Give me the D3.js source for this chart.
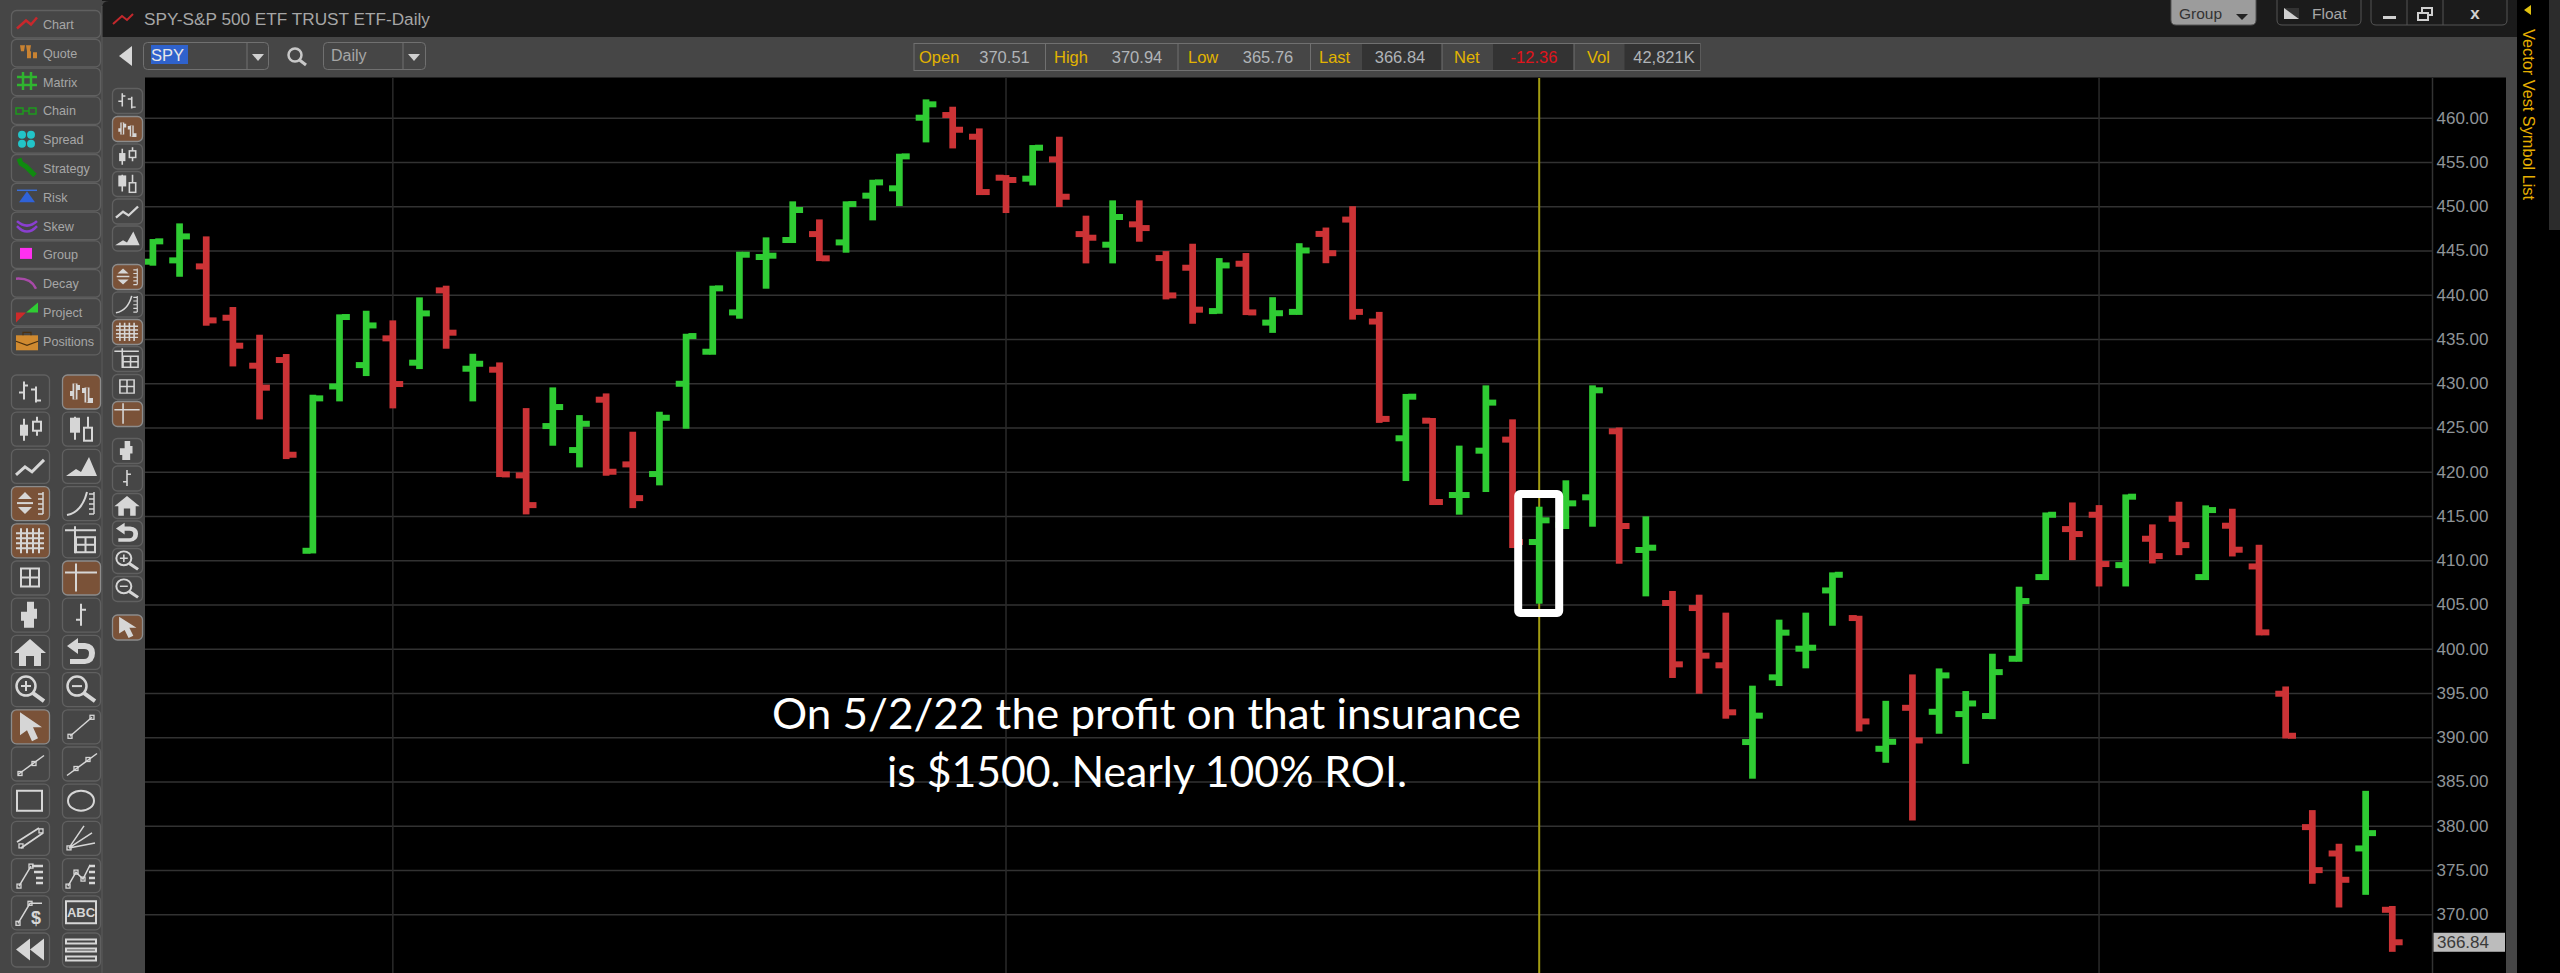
<!DOCTYPE html>
<html>
<head>
<meta charset="utf-8">
<script src="https://cdn.jsdelivr.net/npm/d3@7"></script>
<style>
  html, body { margin: 0; padding: 0; background: #000; overflow: hidden; }
  text { font-family: "Liberation Sans", Arial, sans-serif; }
</style>
</head>
<body>
<svg id="chart" width="2560" height="973"></svg>
<script>
// Daily bars, left to right
var opens = [443.73,443.88,443.2,437.4,431.98,432.62,411.07,429.64,432.05,435.07,432.32,440.49,431.64,431.53,419.59,425.16,422.45,428.14,420.83,419.74,429.94,
  433.56,438,444.26,446.18,446.85,445.91,451.19,452.02,460,460.3,457.85,453.22,453.11,455.29,446.85,445.65,447.95,444.14,443.05,438.15,443.5,
  436.85,438.06,446.87,448.49,436.97,423.78,425.77,417.37,422.38,423.63,412.06,414,417.11,424.57,411.16,405.17,404.6,398.13,389.46,396.77,400.01,
  406.59,403.47,388.7,393.33,392.88,392.62,392.4,398.87,408.1,413.52,415.14,409.45,412.43,414.69,408.1,413.9,409.3,394.92,379.85,376.87,377.44,370.51];
var highs = [446.29,448.06,446.59,438.61,435.48,433.3,428.7,437.78,438.19,437.1,439.7,441.02,433.33,432.35,427.19,429.53,426.4,428.85,424.52,426.78,435.59,
  441.02,444.86,446.48,450.55,448.51,450.55,452.99,455.93,462.07,461.24,458.79,453.52,456.91,457.85,448.93,450.66,450.66,444.93,445.76,444.14,444.71,
  439.72,445.82,447.59,450,438.06,428.79,426.07,422.95,429.76,425.92,416.05,419.03,429.76,425,414.96,406.53,406.11,404.08,395.83,403.29,404.08,
  408.63,403.73,394.12,397.1,397.78,395.22,399.44,407.01,415.4,416.53,416.23,417.44,414.05,416.61,416.2,415.82,411.75,395.74,381.77,377.97,383.95,370.94];
var lows = [443.28,442.03,436.5,431.9,425.91,421.43,410.77,427.95,430.81,427.16,431.6,433.9,427.95,419.4,415.18,422.94,420.49,419.55,415.89,418.46,424.86,
  433.22,437.29,440.68,445.84,443.8,444.75,448.4,450.02,457.21,456.53,451.26,449.23,452.35,449.91,443.54,443.54,445.99,439.47,436.72,437.85,437.7,
  435.69,437.72,443.56,437.19,425.52,418.95,416.24,415.15,417.71,411.38,405.09,413.53,413.79,409.61,405.92,396.7,394.92,392.1,385.32,395.79,397.79,
  402.6,390.66,387.12,380.6,390.4,387,392.05,398.53,407.76,410.02,407.04,407.04,409.64,410.58,407.76,410.43,401.51,389.87,373.45,370.77,372.2,365.76];
var closes = [446.03,446.59,437.1,434.24,429.5,421.92,428.29,437.48,436.53,429.91,437.89,435.71,432.2,419.7,416.23,427.31,425.42,420,417.02,426.1,435.33,
  440.72,444.52,444.41,449.57,444.11,450.24,452.69,455.63,461.51,458.64,451.6,452.96,456.61,451.07,446.44,448.78,447.53,439.92,438.31,443.31,438,
  437.91,445,444.69,438.06,425.97,428.48,416.58,417.37,427.81,412.06,414.51,416.43,429.2,413.87,411.42,398.24,399.22,392.82,392.44,401.82,400.12,
  408.36,391.79,389.49,389.64,396.99,393.82,397.36,405.39,415.14,412.96,409.57,417.18,410.47,411.71,415.67,411.19,401.85,390.17,374.99,373.9,379.17,366.84];

var priceTicks = d3.range(370, 461, 5);
var gridBars = [9, 32, 73];   // bars that carry a vertical grid line
var cursorBar = 52;           // the yellow cursor and the white box
var lastPrice = 366.84;

var quoteLabels = ["Open", "High", "Low", "Last", "Net", "Vol"];
var quoteValues = ["370.51", "370.94", "365.76", "366.84", "-12.36", "42,821K"];

var navLabels = ["Chart", "Quote", "Matrix", "Chain", "Spread", "Strategy", "Risk", "Skew", "Group", "Decay", "Project", "Positions"];

var bars = opens.map(function(d, i) {
    return { i: i, open: d, high: highs[i], low: lows[i], close: closes[i] };
});

var svg = d3.select("#chart");
var panelGrey = "#464646", btnLine = "#606060", btnActive = "#7a5238", iconColor = "#d6d6d6";
var green = "#2fcc33", red = "#cc3336", labelGrey = "#a6a6a6";

// Scales
var x = d3.scaleLinear().domain([0, 84]).range([152.9, 2392.3]);
var y = d3.scaleLinear().domain([460, 370]).range([117.7, 914.3]);

// Window background
svg.append("rect").attr("width", 2560).attr("height", 973).attr("fill", panelGrey);
svg.append("rect").attr("x", 102).attr("y", 0).attr("width", 2415).attr("height", 37).attr("fill", "#1b1b1b");
svg.append("path").attr("d", "M102 37V8Q102 1 109 1H102V37Z").attr("fill", panelGrey);
svg.append("line").attr("x1", 102).attr("x2", 102).attr("y1", 6).attr("y2", 973).attr("stroke", "#5a5a5a");
svg.append("rect").attr("x", 145).attr("y", 77.5).attr("width", 2361).attr("height", 896).attr("fill", "#000");
svg.append("rect").attr("x", 2517).attr("y", 0).attr("width", 43).attr("height", 973).attr("fill", "#000");
svg.append("rect").attr("x", 2549).attr("y", 0).attr("width", 11).attr("height", 230).attr("fill", "#2c2c2c");
svg.append("clipPath").attr("id", "plot-clip")
    .append("rect").attr("x", 145).attr("y", 77.5).attr("width", 2361).attr("height", 896);

// Grid lines and price axis
var plot = svg.append("g");
plot.append("g")
    .attr("class", "grid")
    .attr("transform", "translate(2432.5,0)")
    .call(d3.axisLeft(y).tickValues(priceTicks).tickSize(2287.5).tickFormat(""))
    .call(function(g) { g.select(".domain").remove(); })
    .selectAll("line").attr("stroke", "#323232").attr("stroke-width", 1.5);

plot.selectAll(".vgrid")
    .data(gridBars)
    .enter().append("line")
    .attr("class", "vgrid")
    .attr("x1", function(d) { return x(d); })
    .attr("x2", function(d) { return x(d); })
    .attr("y1", 78).attr("y2", 973)
    .attr("stroke", "#2a2a2a").attr("stroke-width", 1.5);

plot.append("line")
    .attr("x1", 2432.5).attr("x2", 2432.5).attr("y1", 78).attr("y2", 973)
    .attr("stroke", "#333").attr("stroke-width", 1.5);

plot.append("line")
    .attr("x1", x(cursorBar)).attr("x2", x(cursorBar)).attr("y1", 78).attr("y2", 973)
    .attr("stroke", "#a39c12").attr("stroke-width", 2);

var axis = plot.append("g")
    .attr("transform", "translate(2432.5,0)")
    .call(d3.axisRight(y).tickValues(priceTicks).tickSize(0).tickPadding(4).tickFormat(d3.format(".2f")));
axis.select(".domain").remove();
axis.selectAll("text")
    .attr("fill", "#8f9498")
    .style("font-size", "17px")
    .style("font-family", "'Liberation Sans', Arial, sans-serif");

// Last price flag
svg.append("rect").attr("x", 2433.5).attr("y", y(lastPrice) - 9.5).attr("width", 71.5).attr("height", 19).attr("fill", "#bcbcbc");
svg.append("text").attr("x", 2437).attr("y", y(lastPrice) + 6).attr("font-size", 17).attr("fill", "#3a3a3a").text(d3.format(".2f")(lastPrice));

// OHLC bars
var stemW = 6.7, tickW = 6, tickLen = 7;
function barColor(d) { return d.close >= d.open ? green : red; }
var barG = svg.append("g").attr("class", "bars").attr("clip-path", "url(#plot-clip)").selectAll("g")
    .data(bars)
    .enter().append("g")
    .attr("fill", barColor);
barG.append("rect")
    .attr("x", function(d) { return x(d.i) - stemW / 2; })
    .attr("y", function(d) { return y(d.high); })
    .attr("width", stemW)
    .attr("height", function(d) { return y(d.low) - y(d.high); });
barG.append("rect")
    .attr("x", function(d) { return x(d.i) - stemW / 2 - tickLen; })
    .attr("y", function(d) { return y(d.open) - tickW / 2; })
    .attr("width", tickLen + 1)
    .attr("height", tickW);
barG.append("rect")
    .attr("x", function(d) { return x(d.i) + stemW / 2 - 1; })
    .attr("y", function(d) { return y(d.close) - tickW / 2; })
    .attr("width", tickLen + 1)
    .attr("height", tickW);

// White box round the cursor bar
svg.append("rect")
    .attr("x", x(cursorBar) - 21).attr("y", 494)
    .attr("width", 41).attr("height", 119)
    .attr("rx", 2)
    .attr("fill", "none").attr("stroke", "#fff").attr("stroke-width", 8);

// Slide annotation
svg.append("text")
    .attr("x", 772).attr("y", 729)
    .attr("textLength", 749).attr("lengthAdjust", "spacingAndGlyphs")
    .style("font-family", "Lato, sans-serif").style("font-size", "43px")
    .attr("fill", "#fff")
    .text("On 5/2/22 the profit on that insurance");
svg.append("text")
    .attr("x", 887).attr("y", 787)
    .attr("textLength", 520).attr("lengthAdjust", "spacingAndGlyphs")
    .style("font-family", "Lato, sans-serif").style("font-size", "43px")
    .attr("fill", "#fff")
    .text("is $1500. Nearly 100% ROI.");

// Title bar
svg.append("path").attr("d", "M113 24L122 16L127 20L133 14").attr("fill", "none").attr("stroke", "#c2282c").attr("stroke-width", 2);
svg.append("text").attr("x", 144).attr("y", 25).attr("font-size", 17.2).attr("fill", labelGrey).text("SPY-S&P 500 ETF TRUST ETF-Daily");

function titleButton(bx, w, fill) {
    svg.append("path")
        .attr("d", "M" + bx + " 0V20Q" + bx + " 25 " + (bx + 5) + " 25H" + (bx + w - 5) + "Q" + (bx + w) + " 25 " + (bx + w) + " 20V0")
        .attr("fill", fill).attr("stroke", "#555");
}
titleButton(2171, 85, "#9c9c9c");
svg.append("text").attr("x", 2179).attr("y", 19).attr("font-size", 15.5).attr("fill", "#333").text("Group");
svg.append("path").attr("d", "M2236 14H2248L2242 20Z").attr("fill", "#222");
titleButton(2277, 84, "#1b1b1b");
svg.append("path").attr("d", "M2284 8H2299V19H2284Z").attr("fill", "#d0d0d0");
svg.append("path").attr("d", "M2284 8L2299 19V8Z").attr("fill", "#333");
svg.append("text").attr("x", 2312).attr("y", 19).attr("font-size", 15.5).attr("fill", labelGrey).text("Float");
titleButton(2371, 136, "#1b1b1b");
svg.append("path").attr("d", "M2407 0V25M2443 0V25").attr("stroke", "#555");
svg.append("rect").attr("x", 2383).attr("y", 16).attr("width", 13).attr("height", 3).attr("fill", "#d0d0d0");
svg.append("path").attr("d", "M2418 13H2428V20H2418ZM2422 13V8H2432V15H2428").attr("fill", "none").attr("stroke", "#d0d0d0").attr("stroke-width", 2);
svg.append("text").attr("x", 2475).attr("y", 19).attr("text-anchor", "middle").attr("font-size", 17).attr("font-weight", "bold").attr("fill", "#d0d0d0").text("x");

// Symbol sidebar
svg.append("path").attr("d", "M2531 5V15L2524 10Z").attr("fill", "#e0c010");
svg.append("text")
    .attr("transform", "translate(2523,29) rotate(90)")
    .attr("textLength", 171).attr("lengthAdjust", "spacingAndGlyphs")
    .attr("font-size", 16).attr("fill", "#e6ae00")
    .text("Vector Vest Symbol List");

// Symbol toolbar
svg.append("path").attr("d", "M119 56L132 46V66Z").attr("fill", "#d8d8d8");
function comboBox(bx, w, div) {
    svg.append("rect").attr("x", bx + 0.5).attr("y", 42.5).attr("width", w).attr("height", 27).attr("rx", 4).attr("fill", panelGrey).attr("stroke", "#707070");
    svg.append("line").attr("x1", div).attr("x2", div).attr("y1", 43).attr("y2", 69).attr("stroke", "#707070");
    svg.append("path").attr("d", "M" + (div + 5) + " 54H" + (div + 17) + "L" + (div + 11) + " 61Z").attr("fill", "#d0d0d0");
}
comboBox(143, 125, 247);
comboBox(323, 102, 403);
svg.append("rect").attr("x", 151).attr("y", 45).attr("width", 37).attr("height", 19).attr("fill", "#2f62cc");
svg.append("text").attr("x", 151).attr("y", 61).attr("font-size", 16.5).attr("fill", "#e8e8e8").text("SPY");
svg.append("text").attr("x", 331).attr("y", 61).attr("font-size", 16).attr("fill", labelGrey).text("Daily");
svg.append("circle").attr("cx", 295).attr("cy", 55).attr("r", 6.5).attr("fill", "none").attr("stroke", "#c8c8c8").attr("stroke-width", 2.5);
svg.append("line").attr("x1", 299.5).attr("y1", 60).attr("x2", 306).attr("y2", 65).attr("stroke", "#c8c8c8").attr("stroke-width", 3);

// Quote strip
var cellEdges = [914, 1045.5, 1178, 1310.5, 1442, 1574, 1700];
var cellDark = [null, null, null, 1362, 1493, 1624.5];
var cellLabelX = [919, 1054, 1188, 1319, 1454, 1587];
var cellValueX = [1004.5, 1137, 1268, 1400, 1534, 1664];
svg.append("rect").attr("x", 914).attr("y", 43.5).attr("width", 786).attr("height", 27).attr("fill", panelGrey).attr("stroke", "#707070");
quoteLabels.forEach(function(label, i) {
    if (cellDark[i]) {
        svg.append("rect").attr("x", cellDark[i]).attr("y", 44).attr("width", cellEdges[i + 1] - cellDark[i]).attr("height", 26).attr("fill", "#333");
    }
    if (i > 0) {
        svg.append("line").attr("x1", cellEdges[i]).attr("x2", cellEdges[i]).attr("y1", 43).attr("y2", 71).attr("stroke", "#707070");
    }
    svg.append("text").attr("x", cellLabelX[i]).attr("y", 63).attr("font-size", 16.5).attr("fill", "#e2b400").text(label);
    svg.append("text").attr("x", cellValueX[i]).attr("y", 63).attr("text-anchor", "middle").attr("font-size", 16.5)
        .attr("fill", label === "Net" ? "#e0141c" : "#b0b4b8").text(quoteValues[i]);
});

// Toolbar icons, drawn in a 38x34 box
function ln(g, d, w) { g.append("path").attr("d", d).attr("fill", "none").attr("stroke", iconColor).attr("stroke-width", w || 2); }
function fl(g, d) { g.append("path").attr("d", d).attr("fill", iconColor); }
function dots(g, pts) {
    pts.forEach(function(p) {
        g.append("rect").attr("x", p[0] - 2).attr("y", p[1] - 2).attr("width", 4).attr("height", 4)
            .attr("fill", "none").attr("stroke", iconColor).attr("stroke-width", 1.3);
    });
}
function ruler(g) { ln(g, "M32 6V28M27 8H32M27 13H32M27 18H32M27 23H32M27 28H32", 1.5); }

var icons = {
    ohlc1: function(g) { ln(g, "M13 7V25M8 18H13M13 11H17M25 12V28M20 15H25M25 26H30", 2); },
    ohlc2: function(g) {
        ln(g, "M13 9V25M8 19H13M13 13H18M25 13V28M20 16H25M25 26H31", 5);
        g.append("path").attr("d", "M13 9V25M25 13V28").attr("stroke", btnActive).attr("stroke-width", 1.5);
    },
    candle1: function(g) {
        ln(g, "M13 7V29M26 5V24", 2);
        fl(g, "M9 13H17V24H9Z");
        g.append("rect").attr("x", 22).attr("y", 10).attr("width", 8).attr("height", 9).attr("fill", panelGrey).attr("stroke", iconColor).attr("stroke-width", 2);
    },
    candle2: function(g) {
        ln(g, "M13 5V28M26 5V29", 2);
        fl(g, "M8 6H18V21H8Z");
        g.append("rect").attr("x", 22).attr("y", 16).attr("width", 8).attr("height", 13).attr("fill", panelGrey).attr("stroke", iconColor).attr("stroke-width", 2);
    },
    line: function(g) { ln(g, "M5 26L14 18L21 23L33 11", 3); },
    area: function(g) { fl(g, "M4 27L14 20L19 23L27 8L35 27Z"); },
    scaleFit: function(g) {
        fl(g, "M14 6L21 13H7Z M14 28L21 21H7Z");
        ln(g, "M6 17H22", 2);
        ruler(g);
    },
    scaleLog: function(g) { ln(g, "M5 29Q20 26 25 6", 2); ruler(g); },
    grid: function(g) { ln(g, "M10 5V30M16 5V30M22 5V30M28 5V30M5 10H33M5 15H33M5 20H33M5 25H33", 2); },
    gridTable: function(g) { ln(g, "M3 7H34M13 3V30", 2); ln(g, "M14 14H33V29H14ZM14 21.5H33M23.5 14V29", 2); },
    table: function(g) { ln(g, "M10 8H28V26H10ZM10 17H28M19 8V26", 2); },
    cross: function(g) { ln(g, "M3 12H35M14 3V31", 2); },
    bar: function(g) { fl(g, "M16 4H23V11H26V21H23V30H13V23H10V14H16Z"); },
    barSmall: function(g) { ln(g, "M19 6V28M14 22H19M19 12H24", 2); },
    home: function(g) { fl(g, "M19 4L35 18H30V31H23V21H15V31H8V18H3Z"); },
    undo: function(g) {
        fl(g, "M5 11L16 3V8H23Q33 9 33 18Q33 28 23 29H8V24H22Q27 24 27 18Q27 14 22 14H16V19Z");
    },
    zoomIn: function(g) {
        g.append("circle").attr("cx", 15).attr("cy", 14).attr("r", 9.5).attr("fill", "none").attr("stroke", iconColor).attr("stroke-width", 2.5);
        ln(g, "M22 21L33 29", 4); ln(g, "M10 14H20M15 9V19", 2);
    },
    zoomOut: function(g) {
        g.append("circle").attr("cx", 15).attr("cy", 14).attr("r", 9.5).attr("fill", "none").attr("stroke", iconColor).attr("stroke-width", 2.5);
        ln(g, "M22 21L33 29", 4); ln(g, "M10 14H20", 2);
    },
    pointer: function(g) { fl(g, "M9 3L31 18H22L27 29L21 32L16 21L9 26Z"); },
    seg: function(g) { ln(g, "M8 27L30 8", 1.5); dots(g, [[8, 27], [30, 8]]); },
    seg2: function(g) { ln(g, "M7 28L33 9", 1.5); dots(g, [[9, 27], [23, 17]]); },
    seg3: function(g) { ln(g, "M5 29L35 7", 1.5); dots(g, [[14, 22], [26, 13]]); },
    rect: function(g) { ln(g, "M6 7H31V27H6Z", 2); },
    ellipse: function(g) { g.append("ellipse").attr("cx", 19).attr("cy", 17).attr("rx", 13).attr("ry", 10).attr("fill", "none").attr("stroke", iconColor).attr("stroke-width", 2); },
    channel: function(g) { ln(g, "M6 21L28 7M10 27L32 12", 1.8); dots(g, [[10, 25], [30, 10]]); },
    fan: function(g) { ln(g, "M7 27L22 5M7 27L30 12M7 27L33 22", 1.5); dots(g, [[7, 27]]); },
    fib: function(g) { ln(g, "M8 28L20 8", 1.5); dots(g, [[8, 28], [20, 8]]); ln(g, "M21 8H32M23 14H32M25 20H32M25 25H32", 2.5); },
    fib2: function(g) { ln(g, "M6 28L14 14L21 21L28 7", 1.5); dots(g, [[6, 28], [14, 14], [21, 21]]); ln(g, "M27 8H33M27 14H33M27 20H33M27 25H33", 2.5); },
    fibDollar: function(g) {
        ln(g, "M7 28L19 8H31", 1.5); dots(g, [[7, 28], [19, 8]]);
        g.append("text").attr("x", 25).attr("y", 29).attr("text-anchor", "middle").attr("font-size", 18).attr("font-weight", "bold").attr("fill", iconColor).text("$");
    },
    abc: function(g) {
        ln(g, "M4 6H34V28H4Z", 2);
        g.append("text").attr("x", 19).attr("y", 22).attr("text-anchor", "middle").attr("font-size", 13).attr("font-weight", "bold").attr("fill", iconColor).text("ABC");
    },
    rewind: function(g) { fl(g, "M5 17L19 6V28ZM19 17L33 6V28Z"); },
    lines: function(g) { ln(g, "M4 7H34V11H4ZM4 16H34V19H4ZM4 24H34V28H4Z", 2); }
};

function toolButton(bx, by, w, h, name, active) {
    var g = svg.append("g").attr("transform", "translate(" + bx + "," + by + ")");
    g.append("rect").attr("x", 0.5).attr("y", 0.5).attr("width", w).attr("height", h).attr("rx", 5)
        .attr("fill", active ? btnActive : panelGrey).attr("stroke", active ? "#8c8c8c" : btnLine).attr("stroke-width", 1.3);
    icons[name](g.append("g").attr("transform", "scale(" + (w / 38) + "," + (h / 34) + ")"));
}

// Narrow strip beside the chart
var stripIcons = ["ohlc1", "ohlc2", "candle1", "candle2", "line", "area", "scaleFit", "scaleLog", "grid", "gridTable", "table", "cross",
    "bar", "barSmall", "home", "undo", "zoomIn", "zoomOut", "pointer"];
var stripTops = [88, 116, 143.5, 171, 198.5, 225.5, 264, 291.5, 319, 346, 374, 401, 438, 465.5, 493, 520.5, 548, 576, 614.5];
var activeIcons = ["ohlc2", "scaleFit", "grid", "cross", "pointer"];
stripIcons.forEach(function(name, i) {
    toolButton(112, stripTops[i], 30, 25, name, activeIcons.indexOf(name) >= 0);
});

// Two column tool grid
var gridIcons = stripIcons.slice(0, 18).concat(["pointer", "seg", "seg2", "seg3", "rect", "ellipse", "channel", "fan", "fib", "fib2", "fibDollar", "abc", "rewind", "lines"]);
gridIcons.forEach(function(name, i) {
    toolButton(i % 2 ? 62 : 11, 374.5 + 37.2 * Math.floor(i / 2), 38, 34, name, activeIcons.indexOf(name) >= 0);
});

// Navigation buttons
var nav = svg.append("g").selectAll("g")
    .data(navLabels)
    .enter().append("g")
    .attr("transform", function(d, i) { return "translate(11," + (10.5 + 28.8 * i) + ")"; });
nav.append("rect").attr("x", 0.5).attr("width", 89).attr("height", 27.5).attr("rx", 5)
    .attr("fill", panelGrey).attr("stroke", btnLine).attr("stroke-width", 1.3);
nav.append("text").attr("x", 32).attr("y", 18.5).attr("font-size", 12.6).attr("fill", labelGrey).text(function(d) { return d; });

var navIcons = [
    function(g) { g.append("path").attr("d", "M6 18L15 10L20 14L26 7").attr("fill", "none").attr("stroke", "#c8282c").attr("stroke-width", 2.5); },
    function(g) { g.append("path").attr("d", "M9 6h5l-1 6h-3ZM15 6h5l-1 6h-3ZM16 12h4v7h-4ZM22 13h4v6h-4Z").attr("fill", "#c88232"); },
    function(g) { g.append("path").attr("d", "M12 4V22M20 4V22M6 9H26M6 17H26").attr("fill", "none").attr("stroke", "#2fb52f").attr("stroke-width", 2.5); },
    function(g) { g.append("path").attr("d", "M5 11H12V17H5ZM18 11H25V17H18ZM12 14H18").attr("fill", "none").attr("stroke", "#1e9a1e").attr("stroke-width", 1.5); },
    function(g) {
        [[11, 9], [20, 9], [11, 18], [20, 18]].forEach(function(p) {
            g.append("circle").attr("cx", p[0]).attr("cy", p[1]).attr("r", 4).attr("fill", "#22c4c8");
        });
    },
    function(g) { g.append("path").attr("d", "M8 4L10 9L15 12L24 21").attr("fill", "none").attr("stroke", "#0f8a0f").attr("stroke-width", 5); },
    function(g) {
        g.append("path").attr("d", "M6 7H26").attr("stroke", "#3a6fd8").attr("stroke-width", 1.5);
        g.append("path").attr("d", "M16 8L24 19H8Z").attr("fill", "#2f62d8");
    },
    function(g) { g.append("path").attr("d", "M6 9Q16 18 26 9M6 14Q16 25 26 14").attr("fill", "none").attr("stroke", "#8a3fd0").attr("stroke-width", 2.5); },
    function(g) { g.append("rect").attr("x", 9).attr("y", 7).attr("width", 12).attr("height", 11).attr("fill", "#ff30f0"); },
    function(g) { g.append("path").attr("d", "M5 9Q20 8 25 19").attr("fill", "none").attr("stroke", "#a84aa8").attr("stroke-width", 2.5); },
    function(g) {
        g.append("path").attr("d", "M5 14H15L5 24Z").attr("fill", "#cc2a2a");
        g.append("path").attr("d", "M15 14L27 4V14Z").attr("fill", "#2fcc33");
    },
    function(g) {
        g.append("path").attr("d", "M5 8H27V23H5Z").attr("fill", "#d08a30");
        g.append("path").attr("d", "M12 8V5H20V8M5 14L16 18L27 14").attr("fill", "none").attr("stroke", "#4a3010").attr("stroke-width", 1.2);
    }
];
nav.each(function(d, i) { navIcons[i](d3.select(this)); });
</script>
</body>
</html>
